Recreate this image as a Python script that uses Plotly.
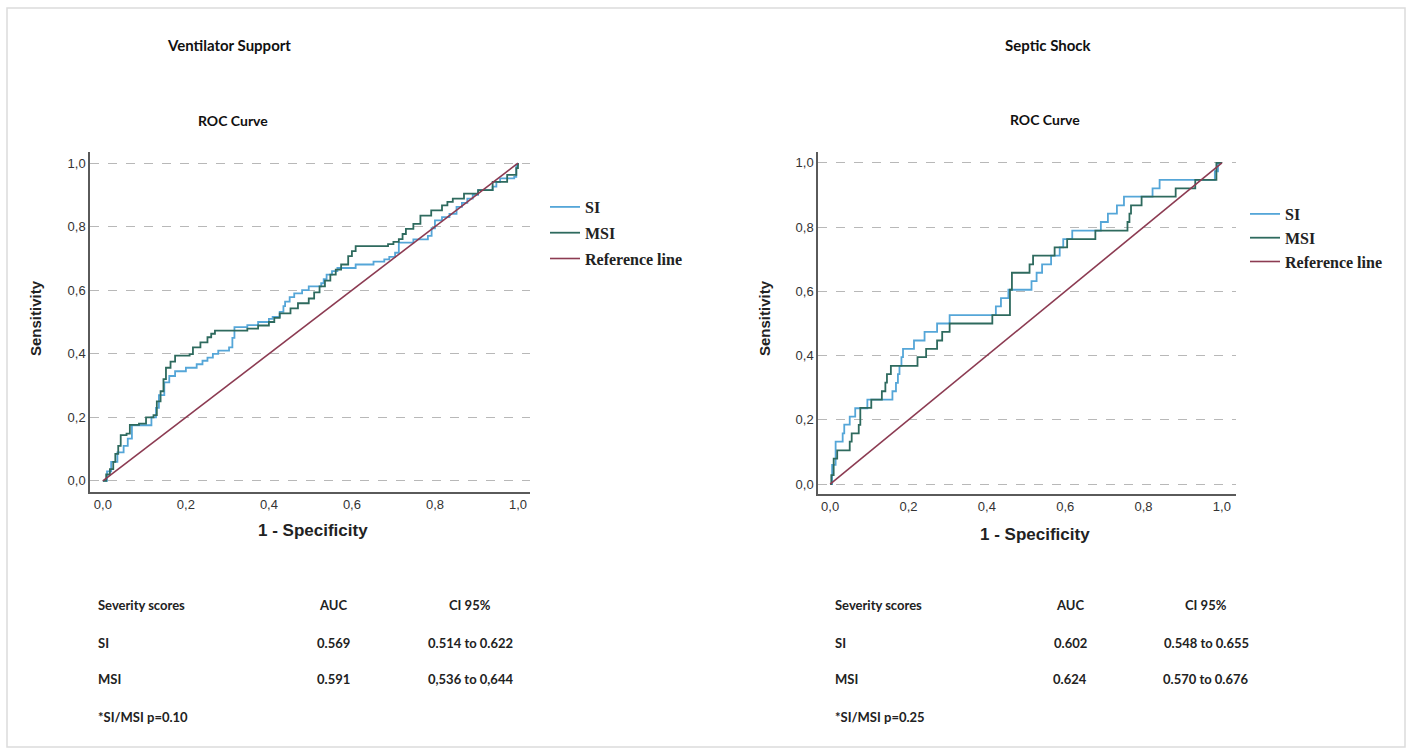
import plotly.graph_objects as go

# ---------------- data ----------------
vent_si_fpr = [0, 0.010, 0.020, 0.035, 0.050, 0.060, 0.070, 0.117, 0.128, 0.135, 0.148, 0.160, 0.174, 0.200, 0.226,
               0.240, 0.252, 0.265, 0.278, 0.304, 0.312, 0.317, 0.348, 0.374, 0.400, 0.409, 0.426, 0.435, 0.439, 0.450,
               0.461, 0.480, 0.496, 0.526, 0.532, 0.539, 0.552, 0.565, 0.609, 0.652, 0.678, 0.690, 0.704, 0.713, 0.748,
               0.783, 0.792, 0.800, 0.817, 0.835, 0.852, 0.865, 0.878, 0.891, 0.904, 0.939, 0.948, 0.957, 0.991, 0.996, 1.0]
vent_si_tpr = [0, 0.030, 0.060, 0.090, 0.110, 0.133, 0.175, 0.200, 0.230, 0.270, 0.310, 0.330, 0.345, 0.356, 0.367,
               0.378, 0.388, 0.400, 0.410, 0.420, 0.450, 0.484, 0.490, 0.500, 0.510, 0.516, 0.532, 0.550, 0.564, 0.578,
               0.590, 0.600, 0.612, 0.622, 0.635, 0.649, 0.660, 0.670, 0.681, 0.690, 0.697, 0.705, 0.718, 0.750, 0.760,
               0.771, 0.795, 0.820, 0.830, 0.840, 0.862, 0.875, 0.888, 0.900, 0.915, 0.926, 0.940, 0.952, 0.957, 0.995, 1.0]

vent_msi_fpr = [0, 0.008, 0.017, 0.025, 0.030, 0.037, 0.043, 0.057, 0.065, 0.087, 0.104, 0.122, 0.130, 0.139, 0.146,
                0.152, 0.163, 0.174, 0.209, 0.217, 0.235, 0.252, 0.261, 0.270, 0.348, 0.374, 0.400, 0.413, 0.426, 0.452,
                0.470, 0.496, 0.509, 0.522, 0.535, 0.548, 0.561, 0.574, 0.591, 0.600, 0.609, 0.687, 0.700, 0.713, 0.722,
                0.730, 0.748, 0.765, 0.791, 0.817, 0.830, 0.843, 0.870, 0.904, 0.939, 0.974, 0.996, 1.0]
vent_msi_tpr = [0, 0.020, 0.037, 0.060, 0.085, 0.110, 0.144, 0.149, 0.176, 0.180, 0.200, 0.207, 0.250, 0.282, 0.320,
                0.356, 0.375, 0.394, 0.399, 0.420, 0.436, 0.452, 0.463, 0.473, 0.479, 0.489, 0.500, 0.513, 0.527, 0.543,
                0.559, 0.574, 0.593, 0.612, 0.630, 0.649, 0.665, 0.681, 0.707, 0.723, 0.739, 0.745, 0.752, 0.761, 0.777,
                0.793, 0.809, 0.835, 0.851, 0.867, 0.878, 0.888, 0.904, 0.915, 0.941, 0.963, 0.984, 1.0]

shock_si_fpr = [0, 0.005, 0.014, 0.032, 0.036, 0.050, 0.064, 0.095, 0.159, 0.168, 0.173, 0.177, 0.182, 0.186, 0.214,
                0.241, 0.273, 0.305, 0.423, 0.436, 0.455, 0.514, 0.527, 0.541, 0.564, 0.586, 0.595, 0.618, 0.691, 0.709,
                0.732, 0.750, 0.823, 0.841, 0.982, 0.990, 1.0]
shock_si_tpr = [0, 0.060, 0.132, 0.158, 0.185, 0.210, 0.236, 0.263, 0.289, 0.315, 0.342, 0.368, 0.395, 0.421, 0.447,
                0.474, 0.500, 0.526, 0.553, 0.579, 0.605, 0.632, 0.658, 0.684, 0.711, 0.737, 0.763, 0.789, 0.816, 0.842,
                0.868, 0.895, 0.921, 0.947, 0.974, 1.0, 1.0]

shock_msi_fpr = [0, 0.003, 0.009, 0.018, 0.050, 0.055, 0.073, 0.077, 0.105, 0.132, 0.141, 0.145, 0.155, 0.223, 0.245,
                 0.273, 0.286, 0.305, 0.414, 0.459, 0.464, 0.509, 0.518, 0.573, 0.605, 0.677, 0.759, 0.764, 0.768, 0.795,
                 0.882, 0.932, 0.986, 1.0]
shock_msi_tpr = [0, 0.028, 0.079, 0.105, 0.132, 0.158, 0.184, 0.237, 0.263, 0.289, 0.316, 0.342, 0.368, 0.395, 0.421,
                 0.447, 0.474, 0.500, 0.526, 0.605, 0.658, 0.684, 0.711, 0.737, 0.763, 0.789, 0.816, 0.842, 0.868, 0.895,
                 0.921, 0.947, 1.0, 1.0]

ref_x = [0, 1]
ref_y = [0, 1]

tick_vals = [0, 0.2, 0.4, 0.6, 0.8, 1.0]
tick_text = ["0,0", "0,2", "0,4", "0,6", "0,8", "1,0"]

panel_titles = ["Ventilator Support", "Septic Shock"]
table_header = ["Severity scores", "AUC", "CI 95%"]
vent_rows = [["SI", "0.569", "0.514 to 0.622"], ["MSI", "0.591", "0,536 to 0,644"]]
shock_rows = [["SI", "0.602", "0.548 to 0.655"], ["MSI", "0.624", "0.570 to 0.676"]]
vent_note = "*SI/MSI p=0.10"
shock_note = "*SI/MSI p=0.25"

# ---------------- style ----------------
W, H = 1412, 748
C_SI = "#55a6d8"
C_MSI = "#2e6a5e"
C_REF = "#8c3b52"
GRID = "#b8b8b8"
AXIS = "#5a5a5a"


def px(x):
    return x / W


def py(y):
    return 1 - y / H


fig = go.Figure()

panels = [
    dict(si=(vent_si_fpr, vent_si_tpr), msi=(vent_msi_fpr, vent_msi_tpr), xa="x", ya="y", legend="legend"),
    dict(si=(shock_si_fpr, shock_si_tpr), msi=(shock_msi_fpr, shock_msi_tpr), xa="x2", ya="y2", legend="legend2"),
]
for i, p in enumerate(panels):
    fig.add_trace(go.Scatter(x=p["si"][0], y=p["si"][1], mode="lines", name="SI", line=dict(color=C_SI, width=1.8, shape="hv"),
                             xaxis=p["xa"], yaxis=p["ya"], legend=p["legend"], legendgroup=f"si{i}"))
    fig.add_trace(go.Scatter(x=p["msi"][0], y=p["msi"][1], mode="lines", name="MSI", line=dict(color=C_MSI, width=1.8, shape="hv"),
                             xaxis=p["xa"], yaxis=p["ya"], legend=p["legend"], legendgroup=f"msi{i}"))
    fig.add_trace(go.Scatter(x=ref_x, y=ref_y, mode="lines", name="Reference line", line=dict(color=C_REF, width=1.6),
                             xaxis=p["xa"], yaxis=p["ya"], legend=p["legend"], legendgroup=f"ref{i}"))

tickfont = dict(family="Liberation Sans, Arial, sans-serif", size=13, color="#333333")
common_x = dict(tickvals=tick_vals, ticktext=tick_text, showgrid=False, zeroline=False, showline=True,
                linecolor=AXIS, linewidth=1.5, ticks="", tickfont=tickfont, fixedrange=True)
common_y = dict(tickvals=tick_vals, ticktext=tick_text, showgrid=True, gridcolor=GRID, griddash="dash", gridwidth=1,
                zeroline=False, showline=True, linecolor=AXIS, linewidth=1.5, ticks="", tickfont=tickfont, fixedrange=True)

legend_font = dict(family="Liberation Serif, Times New Roman, serif", size=16, color="#222222", weight="bold")
fig.update_layout(
    width=W, height=H,
    margin=dict(l=0, r=0, t=0, b=0),
    paper_bgcolor="white", plot_bgcolor="white",
    xaxis=dict(domain=[px(90), px(530)], range=[-0.031, 1.029], anchor="y", **common_x),
    yaxis=dict(domain=[py(492), py(152)], range=[-0.035, 1.035], anchor="x", **common_y),
    xaxis2=dict(domain=[px(818), px(1236)], range=[-0.031, 1.036], anchor="y2", **common_x),
    yaxis2=dict(domain=[py(494), py(152)], range=[-0.031, 1.034], anchor="x2", **common_y),
    legend=dict(x=px(545), y=py(190), xanchor="left", yanchor="top", bgcolor="rgba(0,0,0,0)",
                font=legend_font, tracegroupgap=2, itemwidth=30),
    legend2=dict(x=px(1245), y=py(197), xanchor="left", yanchor="top", bgcolor="rgba(0,0,0,0)",
                 font=legend_font, tracegroupgap=0, itemwidth=30),
    showlegend=True,
)

# page border
fig.add_shape(type="rect", xref="paper", yref="paper", x0=px(7), x1=px(1405), y0=py(747), y1=py(8),
              line=dict(color="#dcdcdc", width=1.5), fillcolor="rgba(0,0,0,0)", layer="below")

ann = []
title_font = dict(family="Lato, Open Sans, sans-serif", size=15, color="#111111")
sub_font = dict(family="Lato, Open Sans, sans-serif", size=14, color="#111111")
axis_title_font = dict(family="Liberation Sans, Arial, sans-serif", size=17, color="#222222")
ylab_font = dict(family="Liberation Sans Narrow, Liberation Sans, Arial, sans-serif", size=15, color="#222222")
table_font = dict(family="Lato, Open Sans, sans-serif", size=13, color="#222222")


def add_text(x, y, text, font, xanchor="center", textangle=0):
    ann.append(dict(x=px(x), y=py(y), xref="paper", yref="paper", text=text, showarrow=False,
                    xanchor=xanchor, yanchor="middle", font=font, textangle=textangle))


# panel titles
add_text(229, 45, "<b>%s</b>" % panel_titles[0], title_font)
add_text(1048, 45, "<b>%s</b>" % panel_titles[1], title_font)
add_text(233, 121, "<b>ROC Curve</b>", sub_font)
add_text(1045, 120, "<b>ROC Curve</b>", sub_font)
# axis titles
add_text(313, 530, "<b>1 - Specificity</b>", axis_title_font)
add_text(1035, 534, "<b>1 - Specificity</b>", axis_title_font)
add_text(36, 318, "<b>Sensitivity</b>", ylab_font, textangle=-90)
add_text(765, 318, "<b>Sensitivity</b>", ylab_font, textangle=-90)

# tables
tables = [
    dict(left=96, auc=333, ci=470, rows=vent_rows, note=vent_note),
    dict(left=833, auc=1070, ci=1206, rows=shock_rows, note=shock_note),
]
row_y = [643, 679]
for t in tables:
    add_text(t["left"], 605, "<b>%s</b>" % table_header[0], table_font, xanchor="left")
    add_text(t["auc"], 605, "<b>%s</b>" % table_header[1], table_font)
    add_text(t["ci"], 605, "<b>%s</b>" % table_header[2], table_font)
    for r, yy in zip(t["rows"], row_y):
        add_text(t["left"], yy, "<b>%s</b>" % r[0], table_font, xanchor="left")
        add_text(t["auc"], yy, "<b>%s</b>" % r[1], table_font)
        add_text(t["ci"], yy, "<b>%s</b>" % r[2], table_font)
    add_text(t["left"], 717, "<b>%s</b>" % t["note"], table_font, xanchor="left")

fig.update_layout(annotations=ann)
fig.write_html("out.html", config={"displayModeBar": False},
               post_script="document.body.style.margin='0px';")
